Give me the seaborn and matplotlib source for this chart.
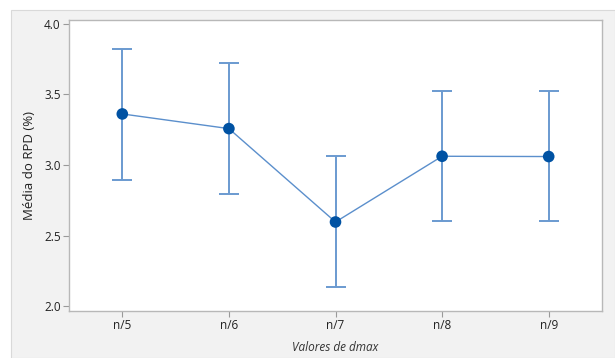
import numpy as np
import pandas as pd
import matplotlib
matplotlib.use("Agg")
import matplotlib.pyplot as plt
import seaborn as sns
from matplotlib.patches import Rectangle

# values
categories = ["n/5", "n/6", "n/7", "n/8", "n/9"]
means = [3.362, 3.258, 2.596, 3.062, 3.060]
lower = [2.896, 2.797, 2.137, 2.603, 2.600]
upper = [3.823, 3.721, 3.062, 3.525, 3.525]
y_ticks = [2.0, 2.5, 3.0, 3.5, 4.0]

df = pd.DataFrame({"dmax": categories, "rpd": means, "lo": lower, "hi": upper})

sns.set_theme(style="white")
plt.rcParams["font.family"] = ["Open Sans", "DejaVu Sans"]

W, H = 615, 358
fig = plt.figure(figsize=(W / 100, H / 100), dpi=100, facecolor="white")

# gray panel behind the plot (Minitab style)
fig.patches.append(Rectangle((11 / W, 0), 1 - 11 / W, 1 - 10 / H, transform=fig.transFigure,
                             facecolor="#f2f2f2", edgecolor="#d9d9d9", linewidth=0.8, zorder=-10))

ax = fig.add_axes([69 / W, 1 - 311 / H, (602 - 69) / W, (311 - 20) / H])
ax.set_facecolor("white")

x = np.arange(len(categories))
err = [df["rpd"] - df["lo"], df["hi"] - df["rpd"]]
ax.errorbar(x, df["rpd"], yerr=err, fmt="none", ecolor="#6a9ad0", elinewidth=1.4,
            capsize=7.5, capthick=1.4, zorder=2)
sns.lineplot(data=df, x="dmax", y="rpd", ax=ax, color="#5b8fcc", linewidth=1.0,
             sort=False, zorder=3)
sns.scatterplot(data=df, x="dmax", y="rpd", ax=ax, color="#0052a3", s=70,
                edgecolor="none", zorder=4)

ax.set_xlim(-0.5, len(categories) - 0.5)
ax.set_ylim(1.965, 4.028)
ax.set_yticks(y_ticks)
ax.set_yticklabels([f"{t:.1f}" for t in y_ticks])
ax.set_xticks(x)
ax.set_xticklabels(categories)

for s in ax.spines.values():
    s.set_color("#b8b8b8")
    s.set_linewidth(1.0)
ax.tick_params(axis="both", which="both", direction="out", length=4, width=0.8,
               color="#999999", labelsize=8.5, labelcolor="#222222", pad=2,
               bottom=True, left=True)

ax.set_xlabel("Valores de dmax", fontsize=8.5, style="italic", color="#333333", labelpad=6)
ax.set_ylabel("Média do RPD (%)", fontsize=9.5, color="#222222", labelpad=6)

fig.savefig("out.png", dpi=100, facecolor=fig.get_facecolor())
